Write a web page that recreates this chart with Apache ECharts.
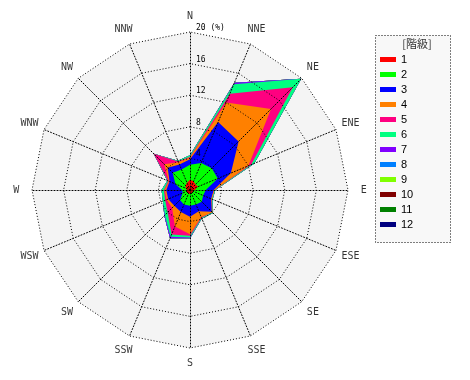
<!DOCTYPE html>
<html>
<head>
<meta charset="utf-8">
<script src="https://cdn.jsdelivr.net/npm/echarts@6/dist/echarts.min.js"></script>
<style>html,body{margin:0;padding:0;background:#fff}#c{width:470px;height:380px}</style>
</head>
<body>
<div id="c"></div>
<script>
// Directions in compass order (clockwise from N)
const dirs = ['N','NNE','NE','ENE','E','ESE','SE','SSE','S','SSW','SW','WSW','W','WNW','NW','NNW'];
const classNames = ['1','2','3','4','5','6','7','8','9','10','11','12'];
const classColors = ['#ff0000','#00ff00','#0000ff','#ff8000','#ff0080','#00ff80','#8000ff','#0080ff','#80ff00','#800000','#008000','#000080'];
const tickValues = [4, 8, 12, 16, 20];
const unitLabel = '(%)';
const legendTitle = '[階級]';

// Frequency (%) of each class per direction, compass order
const cls1  = [1.3, 1.2, 1.0, 1.1, 0.6, 0.4, 0.4, 0.4, 0.5, 0.5, 0.5, 0.5, 0.4, 0.6, 0.8, 1.0];
const cls2  = [1.9, 2.5, 2.9, 2.7, 1.4, 1.4, 1.7, 1.6, 1.5, 1.5, 1.3, 0.5, 0.6, 1.4, 2.3, 1.8];
const cls3  = [0.7, 5.6, 4.8, 1.8, 1.0, 1.1, 1.8, 0.9, 1.4, 1.0, 1.0, 2.0, 2.0, 0.8, 0.9, 0.7];
const cls4  = [0.2, 2.7, 5.8, 2.4, 0.1, 0.1, 0.1, 0.8, 2.2, 2.0, 0.4, 0.2, 0.2, 0.1, 0.6, 0.3];
const cls5  = [0.1, 1.2, 3.9, 0.4, 0.0, 0.0, 0.0, 0.1, 0.2, 1.1, 0.8, 0.2, 0.1, 0.1, 1.9, 0.1];
const cls6  = [0.2, 1.3, 1.5, 0.4, 0.1, 0.1, 0.1, 0.1, 0.2, 0.3, 0.5, 0.3, 0.3, 0.1, 0.0, 0.1];
const cls7  = [0.0, 0.2, 0.0, 0.0, 0.0, 0.0, 0.0, 0.0, 0.1, 0.2, 0.1, 0.0, 0.0, 0.0, 0.0, 0.0];
const cls8  = [0,0,0,0,0,0,0,0,0,0,0,0,0,0,0,0];
const cls9  = [0,0,0,0,0,0,0,0,0,0,0,0,0,0,0,0];
const cls10 = [0,0,0,0,0,0,0,0,0,0,0,0,0,0,0,0];
const cls11 = [0,0,0,0,0,0,0,0,0,0,0,0,0,0,0,0];
const cls12 = [0,0,0,0,0,0,0,0,0,0,0,0,0,0,0,0];
const classData = [cls1,cls2,cls3,cls4,cls5,cls6,cls7,cls8,cls9,cls10,cls11,cls12];

const CENTER = [190, 190];
const RADIUS = 158;
const MAXV = 20;
const LABEL_R = 22.0;

// Radar goes counter-clockwise, so reorder N, NNW, NW, ... to appear clockwise
const radarOrder = dirs.map((d, i) => (16 - i) % 16);
const cumulative = [];
let running = dirs.map(() => 0);
classData.forEach(arr => {
  running = running.map((v, i) => +(v + arr[i]).toFixed(2));
  cumulative.push(running.slice());
});
const radarItems = [];
for (let k = classData.length - 1; k >= 0; k--) {
  radarItems.push({
    name: classNames[k],
    value: radarOrder.map(i => cumulative[k][i]),
    itemStyle: { color: classColors[k] },
    areaStyle: { color: classColors[k], opacity: 1 },
    lineStyle: { width: 0, color: classColors[k] },
    symbol: 'none'
  });
}
const indicators = radarOrder.map(i => ({ name: dirs[i], min: 0, max: MAXV }));

const chart = echarts.init(document.getElementById('c'), null, { renderer: 'canvas' });
const dotted = { color: '#000', width: 1, type: [1, 2] };
chart.setOption({
  animation: false,
  backgroundColor: '#fff',
  radar: [
    {
      center: CENTER, radius: RADIUS, startAngle: 90, shape: 'polygon', splitNumber: 5,
      indicator: indicators, z: 0,
      axisName: { show: false },
      axisLine: { show: false }, splitLine: { show: false },
      splitArea: { show: true, areaStyle: { color: ['#f4f4f4'] } }
    },
    {
      center: CENTER, radius: RADIUS, startAngle: 90, shape: 'polygon', splitNumber: 5,
      indicator: indicators, z: 10, silent: true,
      axisName: { show: false },
      axisLine: { show: true, lineStyle: dotted },
      splitLine: { show: true, lineStyle: dotted },
      splitArea: { show: false }
    }
  ],
  polar: { center: CENTER, radius: RADIUS, z: 12 },
  angleAxis: {
    type: 'category', data: dirs, startAngle: 90, boundaryGap: false, z: 12,
    axisLine: { show: false }, axisTick: { show: false }, axisLabel: { show: false }, splitLine: { show: false }
  },
  radiusAxis: {
    type: 'value', min: 0, max: MAXV, interval: 4, z: 12,
    axisLine: { show: false }, axisTick: { show: false }, splitLine: { show: false },
    axisLabel: {
      show: true, margin: -6, align: 'left', verticalAlign: 'bottom', fontSize: 8, color: '#000',
      fontFamily: 'DejaVu Sans Mono',
      formatter: v => tickValues.indexOf(v) < 0 ? '' : (v === MAXV ? v + ' ' + unitLabel : String(v))
    }
  },
  legend: {
    orient: 'vertical', left: 380, top: 52, padding: 0, itemWidth: 16, itemHeight: 5, itemGap: 0,
    icon: 'rect', selectedMode: false, data: classNames,
    textStyle: { fontSize: 11, lineHeight: 15, color: '#000', fontFamily: 'Liberation Sans' }
  },
  graphic: [
    { type: 'rect', z: -1, shape: { x: 375.5, y: 35.5, width: 75, height: 207 },
      style: { fill: '#f8f8f8', stroke: '#000', lineWidth: 1, lineDash: [1, 2] } },
    { type: 'text', x: 417, y: 44, z: 5,
      style: { text: legendTitle, fill: '#333', font: '11px "Noto Sans CJK JP"', textAlign: 'center', textVerticalAlign: 'middle' } }
  ],
  series: [
    {
      type: 'radar', radarIndex: 0, z: 2, silent: true,
      symbol: 'none', emphasis: { disabled: true },
      data: radarItems
    },
    {
      type: 'scatter', coordinateSystem: 'polar', polarIndex: 0, z: 12, silent: true, clip: false,
      symbolSize: 0,
      data: dirs.map(d => ({ name: d, value: [LABEL_R, d] })),
      label: { show: true, position: 'inside', formatter: '{b}', color: '#000', fontSize: 10, fontFamily: 'DejaVu Sans Mono' }
    }
  ]
});
</script>
</body>
</html>
